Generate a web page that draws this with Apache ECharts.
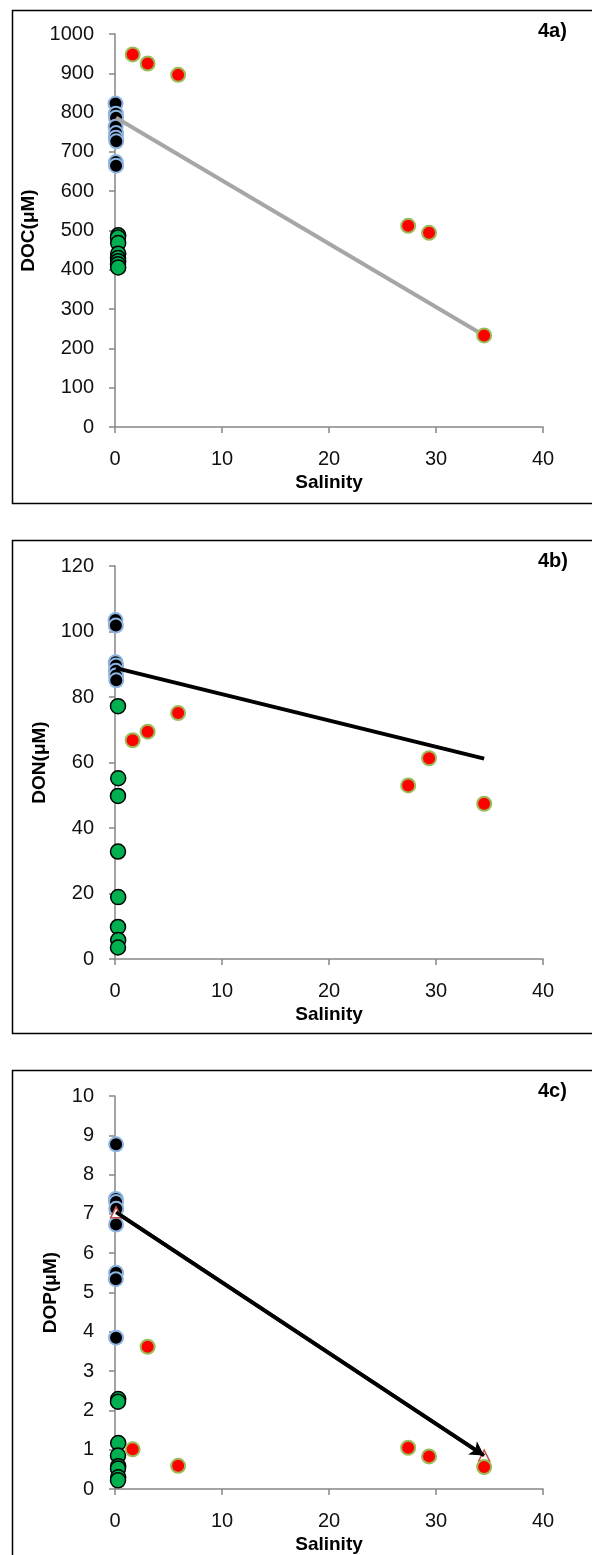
<!DOCTYPE html>
<html>
<head>
<meta charset="utf-8">
<script src="https://cdn.jsdelivr.net/npm/echarts@6/dist/echarts.min.js"></script>
<style>
html,body{margin:0;padding:0;background:#fff;}
#c{width:592px;height:1555px;}
</style>
</head>
<body>
<div id="c"></div>
<script>
// ---------- data ----------
const panelLabels = ['4a)', '4b)', '4c)'];
const yNames = ['DOC(μM)', 'DON(μM)', 'DOP(μM)'];
const yMax = [1000, 120, 10];
const yInterval = [100, 20, 1];
const xTicks = [0, 10, 20, 30, 40];

// freshwater (black) stations
const blackSal = [
  [0.05, 0.08, 0.1, 0.06, 0.1, 0.08, 0.12, 0.08, 0.1],
  [0.05, 0.08, 0.06, 0.1, 0.08, 0.1, 0.12],
  [0.1, 0.08, 0.1, 0.12, 0.1, 0.1, 0.08, 0.1]
];
const blackVal = [
  [823, 797, 787, 764, 748, 736, 727, 674, 665],
  [103.5, 101.8, 90.6, 89.6, 88.0, 86.6, 85.1],
  [8.77, 7.38, 7.30, 7.13, 6.73, 5.50, 5.34, 3.85]
];
// green stations
const greenSal = [
  [0.3, 0.28, 0.3, 0.3, 0.28, 0.3, 0.28, 0.3],
  [0.28, 0.3, 0.28, 0.28, 0.3, 0.28, 0.3, 0.28],
  [0.3, 0.28, 0.3, 0.28, 0.3, 0.28, 0.3, 0.28]
];
const greenVal = [
  [488, 482, 468, 441, 430, 422, 414, 406],
  [77.2, 55.2, 49.8, 32.8, 18.9, 9.8, 5.8, 3.5],
  [2.29, 2.22, 1.17, 0.85, 0.58, 0.52, 0.30, 0.22]
];
// estuary / marine (red) stations
const redSal = [1.65, 3.05, 5.9, 27.4, 29.35, 34.5];
const redVal = [
  [948, 925, 896, 512, 494, 233],
  [66.8, 69.4, 75.1, 53.0, 61.3, 47.4],
  [1.01, 3.62, 0.59, 1.05, 0.83, 0.56]
];
// conservative mixing lines (end members)
const mixSal = [0.1, 34.5];
const mixVal = [
  [787, 233],
  [88.8, 61.2],
  [7.04, 0.85]
];

// ---------- layout ----------
const FONT = 'Liberation Sans, Arial, sans-serif';
const panelTop = [8, 538, 1068];
const panelH = 493;
const gridTop = [34, 566, 1096];
const gridH = 393;
const yNameGap = [68, 63, 55];
const axisGrey = '#868686';

const chart = echarts.init(document.getElementById('c'), null, {renderer: 'canvas'});

const grids = [], xAxes = [], yAxes = [], series = [], titles = [], graphics = [];
for (let i = 0; i < 3; i++) {
  grids.push({left: 115, width: 428, top: gridTop[i], height: gridH, containLabel: false});
  xAxes.push({
    gridIndex: i, type: 'value', min: xTicks[0], max: xTicks[xTicks.length - 1], interval: 10,
    axisLine: {show: true, onZero: false, lineStyle: {color: axisGrey, width: 1.5}},
    axisTick: {show: true, length: 6, lineStyle: {color: axisGrey, width: 1.5}},
    axisLabel: {color: '#111', fontSize: 20, fontFamily: FONT, margin: 22},
    splitLine: {show: false},
    name: 'Salinity', nameLocation: 'middle', nameGap: 46,
    nameTextStyle: {color: '#000', fontSize: 19, fontWeight: 'bold', fontFamily: FONT}
  });
  yAxes.push({
    gridIndex: i, type: 'value', min: 0, max: yMax[i], interval: yInterval[i],
    axisLine: {show: true, onZero: false, lineStyle: {color: axisGrey, width: 1.5}},
    axisTick: {show: true, length: 6, lineStyle: {color: axisGrey, width: 1.5}},
    axisLabel: {color: '#111', fontSize: 20, fontFamily: FONT, margin: 21,
                formatter: v => String(v)},
    splitLine: {show: false},
    name: yNames[i], nameLocation: 'middle', nameGap: yNameGap[i],
    nameTextStyle: {color: '#000', fontSize: 19, fontWeight: 'bold', fontFamily: FONT}
  });

  const isArrow = (i === 2);
  series.push({
    type: 'line', xAxisIndex: i, yAxisIndex: i, z: 3,
    data: mixSal.map((s, k) => [s, mixVal[i][k]]),
    symbol: isArrow ? 'triangle' : 'none', symbolSize: 11, showSymbol: isArrow,
    itemStyle: {color: '#fff', borderColor: '#c0504d', borderWidth: 1.5},
    lineStyle: {color: i === 0 ? '#a6a6a6' : '#000', width: 4},
    markLine: isArrow ? {
      silent: true, symbol: ['none', 'arrow'], symbolSize: [12, 14], label: {show: false},
      lineStyle: {color: '#000', width: 3.5, type: 'solid'},
      data: [[{coord: [mixSal[0], mixVal[i][0]]}, {coord: [mixSal[1], mixVal[i][1]]}]]
    } : undefined,
    animation: false
  });
  series.push({
    type: 'scatter', xAxisIndex: i, yAxisIndex: i, z: 2,
    data: blackSal[i].map((s, k) => [s, blackVal[i][k]]),
    symbolSize: 14,
    itemStyle: {color: '#000', borderColor: '#8db4e2', borderWidth: 2, opacity: 1},
    animation: false
  });
  series.push({
    type: 'scatter', xAxisIndex: i, yAxisIndex: i, z: 4,
    data: greenSal[i].map((s, k) => [s, greenVal[i][k]]),
    symbolSize: 15,
    itemStyle: {color: '#00b050', borderColor: '#000', borderWidth: 1.5, opacity: 1},
    animation: false
  });
  series.push({
    type: 'scatter', xAxisIndex: i, yAxisIndex: i, z: 5,
    data: redSal.map((s, k) => [s, redVal[i][k]]),
    symbolSize: 14,
    itemStyle: {color: '#ff0000', borderColor: '#9bbb59', borderWidth: 2, opacity: 1},
    animation: false
  });

  titles.push({
    text: panelLabels[i], left: 533, top: panelTop[i] + 8,
    textStyle: {fontSize: 20, fontWeight: 'bold', color: '#000', fontFamily: FONT}
  });
  graphics.push({
    type: 'rect', left: 10, top: panelTop[i], silent: true, z: -1,
    shape: {x: 0, y: 0, width: 620, height: panelH},
    style: {fill: 'none', stroke: '#000', lineWidth: 1.5}
  });
}

chart.setOption({
  animation: false,
  backgroundColor: '#fff',
  title: titles,
  grid: grids,
  xAxis: xAxes,
  yAxis: yAxes,
  series: series,
  graphic: graphics
});
</script>
</body>
</html>
